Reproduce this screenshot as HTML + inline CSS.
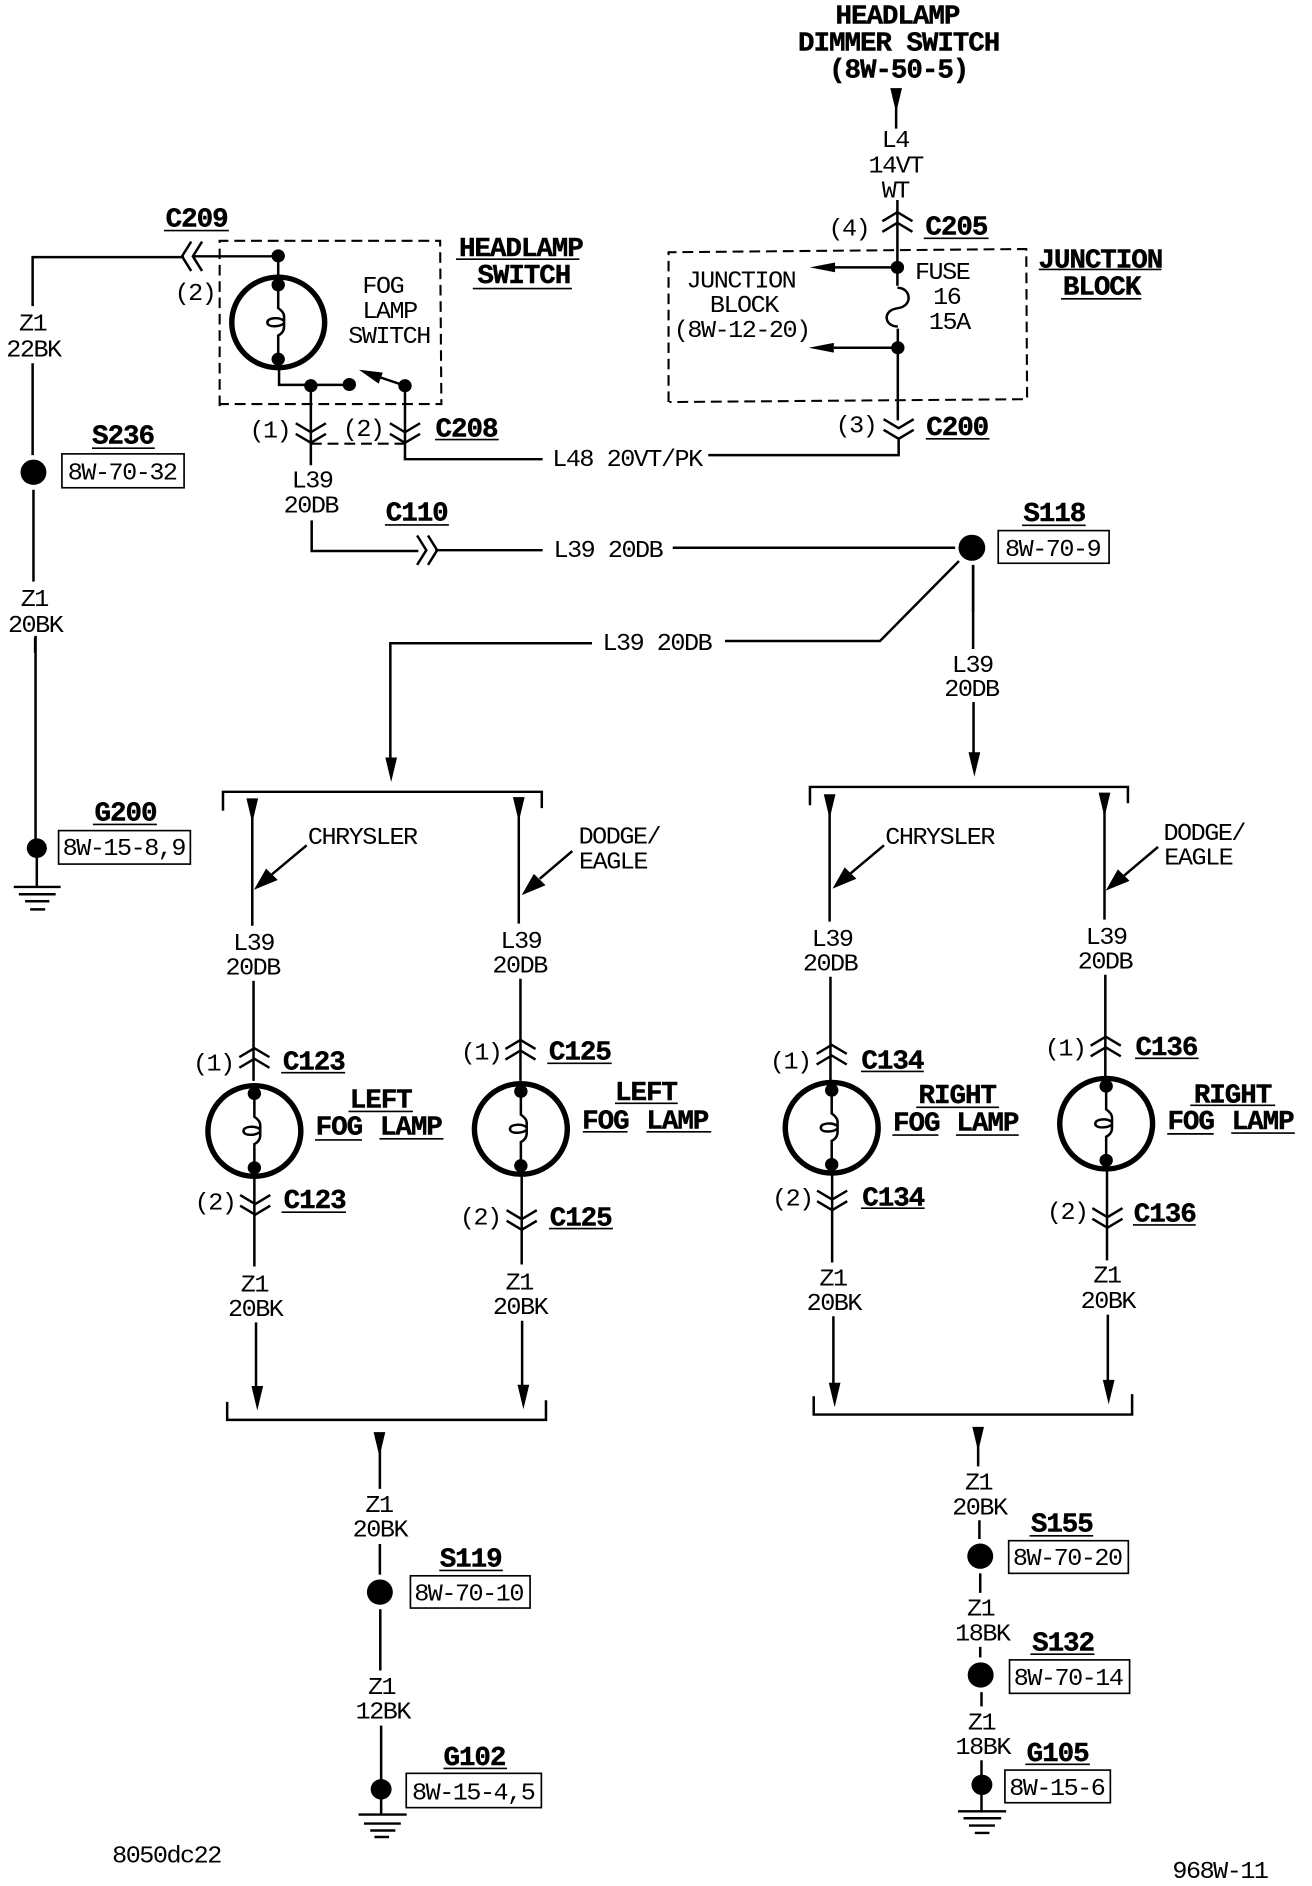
<!DOCTYPE html>
<html><head><meta charset="utf-8"><title>Fog lamp wiring diagram</title>
<style>
html,body{margin:0;padding:0;background:#fff}
svg{display:block}
text{font-family:"Liberation Mono",monospace;fill:#000}
.t{font-size:60px;letter-spacing:-3.5px;text-anchor:middle;transform:translateX(-2px)}
.s{font-size:60px;letter-spacing:-3.5px;text-anchor:start;transform:translateX(-2px)}
.b{font-size:66px;letter-spacing:-2.6px;text-anchor:middle;font-weight:bold;stroke:#000;stroke-width:1px}
.w{fill:none;stroke:#000;stroke-width:6}
.u{fill:none;stroke:#000;stroke-width:4}
.d{fill:none;stroke:#000;stroke-width:5;stroke-dasharray:26 14}
.x{fill:#fff;stroke:#000;stroke-width:4}
</style></head><body>
<svg xmlns="http://www.w3.org/2000/svg" width="1312" height="1886" viewBox="0 0 1312 1886">
<defs>
<g id="lamp">
<circle r="111" fill="none" stroke="#000" stroke-width="13"/>
<circle cy="-92" r="16" fill="#000"/><circle cy="90" r="16" fill="#000"/>
<path d="M0 -92V-35Q14 -25 14 -15V10Q14 25 0 32V90M14 -4C2 -14 -26 -12 -26 0C-26 12 2 12 14 2" fill="none" stroke="#000" stroke-width="6"/>
</g>
<path id="up" d="M-36 22L0 0L36 22M-36 48L0 26L36 48" fill="none" stroke="#000" stroke-width="6"/>
<path id="ad" d="M-14 -60H14L0 0Z" fill="#000"/>
</defs>
<rect width="1312" height="1886" fill="#fff"/>

<!-- shared L39 segment -->
<path d="M725 641H880L959 561" fill="none" stroke="#000" stroke-width="2.5"/>

<!-- Q1 -->
<g transform="scale(.41837,.40816)">
<path class="w" d="M78 750V630H440M460 628H665V700M667 890V943H835M968 945V1125H1297M743 945V1140M745 1275V1350H1000M1040 1348H1297M78 890V1115M80 1200V1425M84 1562V1600"/>
<path class="d" d="M525 995V590H1052L1055 990H525M743 1087H968"/>
<circle cx="665" cy="627" r="16"/><use href="#lamp" x="665" y="790"/>
<circle cx="743" cy="945" r="16"/><circle cx="835" cy="942" r="16"/><circle cx="968" cy="945" r="16"/>
<path class="w" d="M968 945L890 918"/><path d="M858 906L915 913L905 940Z"/>
<use href="#up" transform="translate(435,628) rotate(-90)"/>
<use href="#up" transform="translate(1045,1348) rotate(90)"/>
<use href="#up" transform="translate(743,1085) scale(1,-1)"/>
<use href="#up" transform="translate(968,1085) scale(1,-1)"/>
<circle cx="80" cy="1157" r="31"/>
<rect class="x" x="148" y="1112" width="292" height="83"/>
<path class="u" d="M392 565H547M1090 635H1385M1130 707H1367M1040 1077H1192M920 1286H1073M220 1098H370"/>
<text class="b" x="470" y="555">C209</text>
<text class="t" x="468" y="735">(2)</text>
<text class="t" x="80" y="810">Z1</text><text class="t" x="82" y="873">22BK</text>
<text class="b" x="294" y="1087">S236</text><text class="t" x="294" y="1175">8W-70-32</text>
<text class="t" x="84" y="1485">Z1</text><text class="t" x="86" y="1548">20BK</text>
<text class="b" x="1245" y="627">HEADLAMP</text><text class="b" x="1252" y="693">SWITCH</text>
<text class="t" x="917" y="718">FOG</text><text class="t" x="933" y="779">LAMP</text><text class="t" x="932" y="840">SWITCH</text>
<text class="t" x="647" y="1072">(1)</text><text class="t" x="870" y="1068">(2)</text>
<text class="b" x="1115" y="1070">C208</text>
<text class="s" x="1322" y="1142">L48 20VT/PK</text>
<text class="t" x="748" y="1195">L39</text><text class="t" x="745" y="1256">20DB</text>
<text class="b" x="996" y="1275">C110</text>
<text class="s" x="1325" y="1365">L39 20DB</text>
</g>

<!-- Q2 -->
<g transform="translate(656,0) scale(.41837,.40816)">
<text class="b" x="577" y="57">HEADLAMP</text><text class="b" x="580" y="124">DIMMER SWITCH</text><text class="b" x="580" y="190">(8W-50-5)</text>
<use href="#ad" x="574" y="276"/>
<path class="w" d="M574 240V315M577 490V700M578 805V1030M580 1075V1115H125M577 655H425M578 852H425"/>
<path d="M368 655L428 643V667ZM365 852L425 840V864Z"/>
<path d="M577 705C610 705 615 750 578 755C540 760 545 800 578 800" fill="none" stroke="#000" stroke-width="6"/>
<circle cx="577" cy="655" r="16"/><circle cx="578" cy="852" r="16"/>
<use href="#up" x="577" y="520"/>
<use href="#up" transform="translate(580,1075) scale(1,-1)"/>
<path class="d" d="M30 985V618L885 610L887 978L32 985"/>
<path class="w" d="M40 1342H715M758 1385V1500"/>
<circle cx="755" cy="1342" r="32"/>
<rect class="x" x="818" y="1300" width="265" height="80"/>
<path class="u" d="M640 584H795M915 660H1208M968 732H1160M645 1075H797M875 1287H1027"/>
<text class="t" x="574" y="360">L4</text><text class="t" x="575" y="423">14VT</text><text class="t" x="574" y="484">WT</text>
<text class="t" x="463" y="577">(4)</text><text class="b" x="718" y="574">C205</text>
<text class="t" x="205" y="705">JUNCTION</text><text class="t" x="212" y="765">BLOCK</text><text class="t" x="207" y="826">(8W-12-20)</text>
<text class="t" x="686" y="683">FUSE</text><text class="t" x="697" y="745">16</text><text class="t" x="703" y="806">15A</text>
<text class="b" x="1062" y="655">JUNCTION</text><text class="b" x="1065" y="722">BLOCK</text>
<text class="t" x="480" y="1060">(3)</text><text class="b" x="720" y="1066">C200</text>
<text class="b" x="952" y="1277">S118</text><text class="t" x="950" y="1362">8W-70-9</text>
</g>

<!-- Q4 -->
<g transform="translate(0,640) scale(.41837,.40816)">
<path class="w" d="M85 -10V510M88 510V605M33 605H145M45 623H133M60 640H118M72 660H108"/>
<circle cx="88" cy="510" r="24"/>
<rect class="x" x="140" y="467" width="315" height="82"/>
<path class="u" d="M222 452H375"/>
<text class="b" x="300" y="442">G200</text><text class="t" x="298" y="527">8W-15-8,9</text>
<path class="w" d="M1415 8H933V290M533 418V372H1295V412M603 420V700M1240 420V695M606 835V1080M608 1300V1535M1244 830V1080M1247 1300V1530"/>
<use href="#ad" x="935" y="348"/><use href="#ad" x="603" y="448"/><use href="#ad" x="1240" y="445"/>
<path class="w" d="M733 503L650 574M1368 517L1290 585"/>
<path d="M607 612L636 560L664 588ZM1247 625L1276 573L1304 601Z"/>
<text class="s" x="738" y="500">CHRYSLER</text><text class="s" x="1385" y="498">DODGE/</text><text class="s" x="1386" y="560">EAGLE</text>
<text class="t" x="608" y="760">L39</text><text class="t" x="606" y="820">20DB</text>
<text class="t" x="1247" y="755">L39</text><text class="t" x="1244" y="815">20DB</text>
<use href="#up" x="608" y="1000"/><use href="#up" x="1244" y="980"/>
<use href="#lamp" x="608" y="1203"/><use href="#lamp" x="1245" y="1198"/>
<use href="#up" transform="translate(610,1408) scale(1,-1)"/><use href="#up" transform="translate(1247,1445) scale(1,-1)"/>
<path class="u" d="M672 1060H825M833 1155H987M753 1225H865M907 1222H1060M673 1402H827M1308 1037H1462M1470 1135H1620M1393 1205H1500M1545 1205H1700M1312 1442H1465"/>
<text class="t" x="512" y="1055">(1)</text><text class="b" x="750" y="1052">C123</text>
<text class="b" x="910" y="1145">LEFT</text><text class="b" x="810" y="1212">FOG</text><text class="b" x="982" y="1212">LAMP</text>
<text class="t" x="516" y="1395">(2)</text><text class="b" x="752" y="1392">C123</text>
<text class="t" x="1152" y="1028">(1)</text><text class="b" x="1386" y="1028">C125</text>
<text class="b" x="1544" y="1127">LEFT</text><text class="b" x="1447" y="1197">FOG</text><text class="b" x="1619" y="1197">LAMP</text>
<text class="t" x="1150" y="1432">(2)</text><text class="b" x="1388" y="1435">C125</text>
<text class="s" x="1442" y="25">L39 20DB</text>
</g>

<!-- Q5 -->
<g transform="translate(656,640) scale(.41837,.40816)">
<path class="w" d="M758 -184V22M759 152V300M368 405V360H1128V400M415 420V690M1072 420V685M417 825V1080M421 1290V1525M1074 820V1080M1078 1280V1520"/>
<use href="#ad" x="761" y="335"/><use href="#ad" x="415" y="438"/><use href="#ad" x="1072" y="434"/>
<path class="w" d="M545 503L465 572M1200 507L1118 578"/>
<path d="M422 609L451 557L479 585ZM1075 614L1104 562L1132 590Z"/>
<text class="s" x="550" y="500">CHRYSLER</text><text class="s" x="1215" y="490">DODGE/</text><text class="s" x="1217" y="550">EAGLE</text>
<text class="t" x="423" y="750">L39</text><text class="t" x="418" y="810">20DB</text>
<text class="t" x="1078" y="745">L39</text><text class="t" x="1075" y="805">20DB</text>
<text class="t" x="758" y="78">L39</text><text class="t" x="756" y="137">20DB</text>
<use href="#up" x="420" y="992"/><use href="#up" x="1075" y="972"/>
<use href="#lamp" x="420" y="1195"/><use href="#lamp" x="1076" y="1185"/>
<use href="#up" transform="translate(421,1397) scale(1,-1)"/><use href="#up" transform="translate(1079,1440) scale(1,-1)"/>
<path class="u" d="M490 1057H640M622 1145H820M565 1213H675M717 1213H867M490 1392H642M1145 1025H1297M1277 1140H1480M1222 1210H1333M1375 1208H1527M1140 1433H1290"/>
<text class="t" x="323" y="1050">(1)</text><text class="b" x="565" y="1050">C134</text>
<text class="b" x="720" y="1135">RIGHT</text><text class="b" x="622" y="1202">FOG</text><text class="b" x="792" y="1202">LAMP</text>
<text class="t" x="328" y="1385">(2)</text><text class="b" x="567" y="1385">C134</text>
<text class="t" x="980" y="1018">(1)</text><text class="b" x="1220" y="1017">C136</text>
<text class="b" x="1378" y="1133">RIGHT</text><text class="b" x="1278" y="1198">FOG</text><text class="b" x="1450" y="1198">LAMP</text>
<text class="t" x="985" y="1418">(2)</text><text class="b" x="1216" y="1425">C136</text>
</g>

<!-- Q6 -->
<g transform="translate(0,1246) scale(.41837,.40816)">
<text class="t" x="610" y="112">Z1</text><text class="t" x="612" y="172">20BK</text>
<text class="t" x="1243" y="107">Z1</text><text class="t" x="1245" y="167">20BK</text>
<path class="w" d="M612 187V350M1248 183V345M543 382V426H1305V378M908 480V595M908 730V805M909 890V1040M911 1175V1393M857 1393H972M870 1415H958M885 1432H945M895 1448H930"/>
<use href="#ad" x="615" y="403"/><use href="#ad" x="1251" y="400"/><use href="#ad" x="907" y="516"/>
<circle cx="908" cy="848" r="31"/><circle cx="911" cy="1331" r="25"/>
<rect class="x" x="981" y="808" width="286" height="79"/>
<rect class="x" x="971" y="1292" width="323" height="84"/>
<path class="u" d="M1050 795H1202M1060 1280H1212"/>
<text class="t" x="908" y="652">Z1</text><text class="t" x="910" y="712">20BK</text>
<text class="b" x="1125" y="785">S119</text><text class="t" x="1122" y="868">8W-70-10</text>
<text class="t" x="914" y="1098">Z1</text><text class="t" x="917" y="1158">12BK</text>
<text class="b" x="1134" y="1272">G102</text><text class="t" x="1133" y="1356">8W-15-4,5</text>
<text class="s" x="270" y="1510">8050dc22</text>
</g>

<!-- Q7 -->
<g transform="translate(656,1246) scale(.41837,.40816)">
<text class="t" x="425" y="97">Z1</text><text class="t" x="427" y="157">20BK</text>
<text class="t" x="1080" y="90">Z1</text><text class="t" x="1082" y="152">20BK</text>
<path class="w" d="M424 172V340M1080 168V335M377 368V413H1138V363M770 480V540M773 672V718M775 802V850M775 982V1008M778 1093V1128M778 1260V1385M722 1385H837M735 1402H825M748 1420H810M762 1438H797"/>
<use href="#ad" x="427" y="395"/><use href="#ad" x="1082" y="388"/><use href="#ad" x="770" y="503"/>
<circle cx="775" cy="760" r="31"/><circle cx="776" cy="1051" r="31"/><circle cx="779" cy="1320" r="25"/>
<rect class="x" x="843" y="722" width="286" height="80"/>
<rect class="x" x="845" y="1014" width="287" height="82"/>
<rect class="x" x="834" y="1284" width="252" height="80"/>
<path class="u" d="M893 710H1045M895 1000H1048M883 1270H1037"/>
<text class="t" x="773" y="597">Z1</text><text class="t" x="775" y="658">20BK</text>
<text class="t" x="778" y="905">Z1</text><text class="t" x="782" y="966">18BK</text>
<text class="t" x="780" y="1185">Z1</text><text class="t" x="783" y="1245">18BK</text>
<text class="b" x="970" y="700">S155</text><text class="t" x="985" y="782">8W-70-20</text>
<text class="b" x="973" y="991">S132</text><text class="t" x="987" y="1075">8W-70-14</text>
<text class="b" x="960" y="1262">G105</text><text class="t" x="960" y="1345">8W-15-6</text>
<text class="t" x="1350" y="1548">968W-11</text>
</g>
</svg>
</body></html>
